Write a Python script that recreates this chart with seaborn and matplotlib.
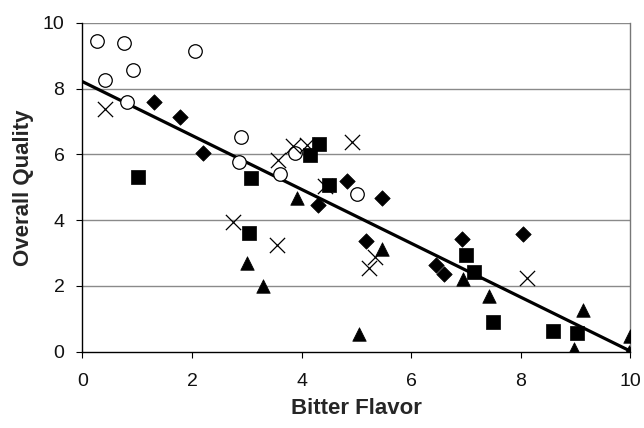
import matplotlib
matplotlib.use("Agg")
import matplotlib.pyplot as plt
import seaborn as sns
import pandas as pd

# Data
circle_x = [0.26, 0.75, 0.42, 0.93, 2.06, 0.82, 2.90, 2.86, 3.60, 3.88, 5.01]
circle_y = [9.43, 9.37, 8.27, 8.55, 9.15, 7.60, 6.54, 5.77, 5.41, 6.04, 4.79]

diamond_x = [1.30, 1.78, 2.20, 4.82, 4.29, 5.47, 5.17, 6.45, 6.60, 6.93, 8.03]
diamond_y = [7.59, 7.12, 6.04, 5.18, 4.47, 4.67, 3.37, 2.64, 2.36, 3.43, 3.58]

square_x = [1.02, 3.07, 4.31, 4.15, 4.49, 3.04, 7.00, 7.14, 7.50, 8.58, 9.02]
square_y = [5.31, 5.28, 6.32, 5.99, 5.07, 3.60, 2.94, 2.43, 0.91, 0.64, 0.58]

triangle_x = [3.01, 3.29, 3.92, 5.05, 5.47, 6.95, 7.42, 9.13, 8.97, 9.99, 9.98]
triangle_y = [2.69, 2.00, 4.67, 0.54, 3.12, 2.20, 1.71, 1.27, 0.10, 0.48, 0.00]

cross_x = [0.42, 2.75, 3.57, 3.84, 4.09, 4.91, 3.55, 5.22, 5.34, 8.12, 4.42]
cross_y = [7.39, 3.93, 5.84, 6.26, 6.29, 6.39, 3.25, 2.54, 2.89, 2.25, 5.05]

trend_x = [0.0, 10.0]
trend_y = [8.21, 0.02]

x_ticks = [0, 2, 4, 6, 8, 10]
y_ticks = [0, 2, 4, 6, 8, 10]

sns.set_style("white")
plt.rcParams['font.family'] = ['Liberation Sans', 'DejaVu Sans']

fig = plt.figure(figsize=(6.44, 4.28), dpi=100)
ax = fig.add_axes([0.128, 0.178, 0.851, 0.769])

for yv in y_ticks[1:]:
    ax.axhline(yv, color="#8a8a8a", lw=1.0, zorder=0)

sns.lineplot(x=trend_x, y=trend_y, ax=ax, color="black", lw=2.3, zorder=2)

groups = [
    (circle_x, circle_y, "o", 95, "white", "black", 0.9),
    (diamond_x, diamond_y, "D", 62, "black", "black", 0.5),
    (square_x, square_y, "s", 88, "black", "black", 0.5),
    (triangle_x, triangle_y, "^", 95, "black", "black", 0.5),
]
for gx, gy, m, s, fc, ec, lw in groups:
    sns.scatterplot(x=gx, y=gy, marker=m, s=s, facecolor=fc, edgecolor=ec,
                    linewidth=lw, ax=ax, zorder=3)
sns.scatterplot(x=cross_x, y=cross_y, marker="x", s=120, color="black",
                linewidth=0.9, ax=ax, zorder=3)

ax.set_xlim(0, 10)
ax.set_ylim(0, 10)
ax.set_xticks(x_ticks)
ax.set_yticks(y_ticks)
ax.tick_params(axis="both", labelsize=14, length=4, width=0.8, direction="out",
               color="black", labelcolor="#111111")
ax.tick_params(axis="x", pad=11)
ax.tick_params(axis="y", pad=9)
ax.xaxis.set_ticks_position("bottom")
ax.yaxis.set_ticks_position("left")

for side in ["left", "bottom"]:
    ax.spines[side].set_color("black")
    ax.spines[side].set_linewidth(1.0)
ax.spines["top"].set_visible(False)
ax.spines["right"].set_color("#777777")
ax.spines["right"].set_linewidth(1.0)

ax.set_xlabel("Bitter Flavor", fontsize=16, fontweight="bold", labelpad=6)
ax.set_ylabel("Overall Quality", fontsize=16, fontweight="bold", labelpad=6)

fig.savefig("out.png", dpi=100)
